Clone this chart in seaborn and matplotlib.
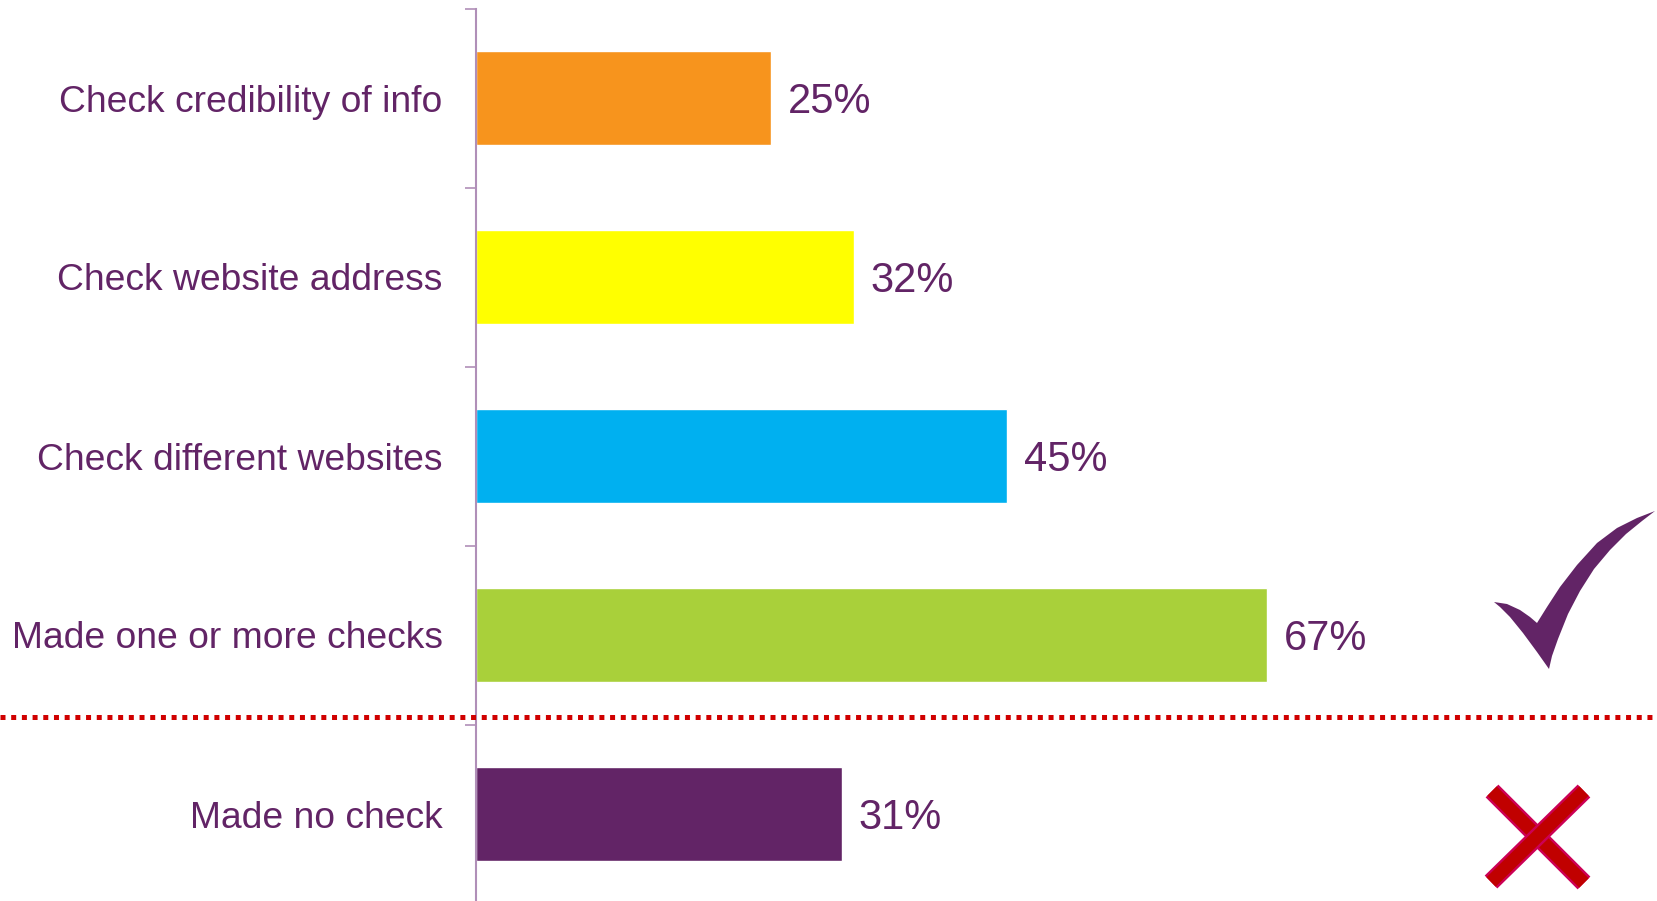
import matplotlib
matplotlib.use("Agg")
import matplotlib.pyplot as plt
import seaborn as sns
import pandas as pd
from matplotlib.patches import Polygon
from matplotlib.lines import Line2D
import matplotlib.patheffects as pe

categories = ["Check credibility of info", "Check website address",
              "Check different websites", "Made one or more checks",
              "Made no check"]
values = [25, 32, 45, 67, 31]
bar_colors = ["#F7941D", "#FFFF00", "#00B0F0", "#A9D03A", "#622466"]
value_labels = ["25%", "32%", "45%", "67%", "31%"]

purple = "#622466"
axis_col = "#B08FB8"

sns.set_theme(style="white")
plt.rcParams["font.family"] = ["Liberation Sans", "DejaVu Sans"]

W, H = 1657, 901
fig = plt.figure(figsize=(W / 100, H / 100), dpi=100)
# axes: left edge at x=476px, top at 8.5px, bands of 179px
ax = fig.add_axes([476 / W, (H - 903.5) / H, (W - 476) / W, 895 / H])

df = pd.DataFrame({"cat": categories, "val": values})
sns.barplot(data=df, x="val", y="cat", hue="cat", palette=bar_colors,
            orient="h", width=0.525, legend=False, saturation=1, ax=ax)

ax.set_xlim(0, 100)
ax.set_ylim(4.5, -0.5)
ax.set_xlabel("")
ax.set_ylabel("")
ax.set_xticks([])

for spine in ["top", "right", "bottom"]:
    ax.spines[spine].set_visible(False)
ax.spines["left"].set_color(axis_col)
ax.spines["left"].set_linewidth(1.5)

ax.tick_params(axis="y", which="major", left=False, length=0, pad=24,
               labelsize=26.8, labelcolor=purple)
ax.set_yticks([i - 0.5 for i in range(len(categories) + 1)], minor=True)
ax.tick_params(axis="y", which="minor", left=True, length=8, width=1.2,
               color=axis_col, direction="out")

# value labels: digit middle on the bar centre
for i, v in enumerate(values):
    ax.annotate(value_labels[i], (v, i), xytext=(12, -10.8),
                textcoords="offset points", va="baseline", ha="left",
                fontsize=30, color=purple)

# dotted red separator across the whole figure
plt.rcParams["lines.scale_dashes"] = False
sep = Line2D([0, 1], [1 - 716.7 / H, 1 - 716.7 / H], transform=fig.transFigure,
             color="#D00000", linewidth=3.6, dashes=(3.6, 4.1))
fig.add_artist(sep)

# check mark (figure pixels)
tick_pts = [(1494, 602), (1507, 604), (1520, 610), (1530, 617),
            (1537, 623), (1547, 607), (1560, 587), (1577, 565),
            (1597, 543), (1617, 528), (1637, 518), (1655, 511),
            (1642, 521), (1626, 534), (1610, 550), (1594, 569),
            (1580, 591), (1568, 614), (1558, 639), (1552, 656),
            (1549, 669), (1537, 652), (1523, 633), (1510, 617),
            (1500, 607)]
check = Polygon([(x / W, 1 - y / H) for x, y in tick_pts], closed=True,
                transform=fig.transFigure, facecolor=purple, edgecolor="none")
fig.add_artist(check)

# red cross
stroke = [pe.Stroke(linewidth=13, foreground="#CC0055"), pe.Normal()]
for (x0, y0), (x1, y1) in [((1492, 791), (1584, 883)),
                           ((1584, 791), (1491, 882))]:
    ln = Line2D([x0 / W, x1 / W], [1 - y0 / H, 1 - y1 / H],
                transform=fig.transFigure, color="#C00000", linewidth=9.5,
                solid_capstyle="butt", path_effects=stroke)
    fig.add_artist(ln)

fig.savefig("out.png", dpi=100)
